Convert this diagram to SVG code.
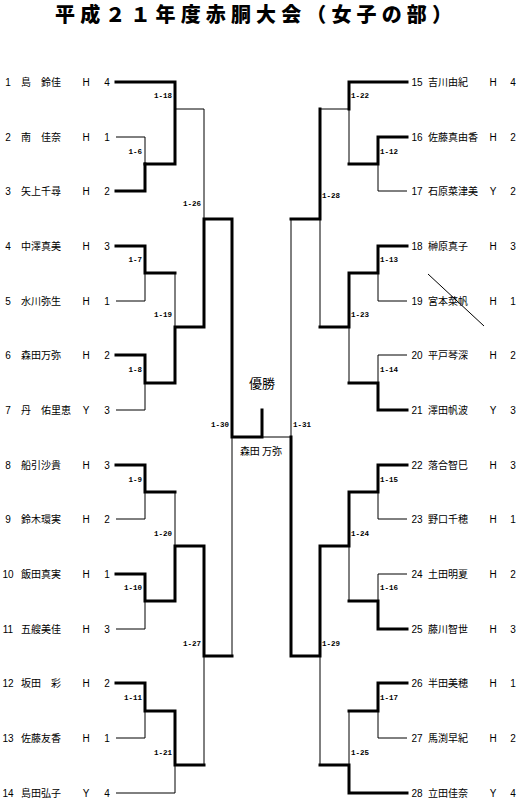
<svg xmlns="http://www.w3.org/2000/svg" width="520" height="806" viewBox="0 0 520 806">
<style>
.t{fill:none;stroke:#000;stroke-width:1}
.k{fill:none;stroke:#000;stroke-width:3;stroke-linecap:square}
.nm{font-family:"Noto Sans CJK JP","Noto Sans CJK SC",sans-serif;font-size:10px;fill:#000}
.no{font-family:"Liberation Sans",sans-serif;font-size:10px;fill:#000;text-anchor:middle}
.lb{font-family:"Liberation Mono",monospace;font-size:7.5px;font-weight:bold;fill:#000}
.le{text-anchor:end}
.ttl{font-family:"Noto Sans CJK JP","Noto Sans CJK SC",sans-serif;font-size:20px;font-weight:900;fill:#000}
.big{font-family:"Noto Sans CJK JP","Noto Sans CJK SC",sans-serif;font-size:13px;fill:#000;text-anchor:middle}
</style>
<rect width="520" height="806" fill="#fff"/>
<text class="ttl" x="55" y="22" textLength="397" lengthAdjust="spacing">平成２１年度赤胴大会（女子の部）</text>

<g id="connectors">
<path class="k" d="M116,82H175V164M145,164H175"/>
<path class="k" d="M116,191H145V164"/>
<path class="k" d="M116,246H145V273H175"/>
<path class="k" d="M116,355H145V383H175V327H204V219H232V437H262V410"/>
<path class="k" d="M116,465H145V492H175"/>
<path class="k" d="M116,574H145V601H175V546H204V656H232"/>
<path class="k" d="M116,683H145V711H175V765H204"/>
<path class="t" d="M175,109H204V219"/>
<path class="t" d="M116,137H145V164"/>
<path class="t" d="M145,273V301H116"/>
<path class="t" d="M175,273V327"/>
<path class="t" d="M145,383V410H116"/>
<path class="t" d="M145,492V519H116"/>
<path class="t" d="M175,492V546"/>
<path class="t" d="M145,601V629H116"/>
<path class="t" d="M145,711V738H116"/>
<path class="t" d="M175,765V793H116"/>
<path class="t" d="M204,656V765"/>
<path class="t" d="M232,437V656"/>
<path class="t" d="M262,437H291"/>
<path class="k" d="M407,82H349V109"/>
<path class="k" d="M407,137H378V164H349"/>
<path class="k" d="M320,109V219H291"/>
<path class="k" d="M407,246H378V273H349V327H320"/>
<path class="k" d="M407,410H378V383H349"/>
<path class="k" d="M291,437V656H320V546H349V492H378V465H407"/>
<path class="k" d="M407,629H378V601H349"/>
<path class="k" d="M407,683H378V711H349"/>
<path class="k" d="M407,793H349V765H320"/>
<path class="t" d="M320,109H349V164"/>
<path class="t" d="M378,164V191H407"/>
<path class="t" d="M320,219V327"/>
<path class="t" d="M378,273V301H407"/>
<path class="t" d="M349,327V383"/>
<path class="t" d="M407,355H378V383"/>
<path class="t" d="M291,219V437"/>
<path class="t" d="M378,492V519H407"/>
<path class="t" d="M349,546V601"/>
<path class="t" d="M407,574H378V601"/>
<path class="t" d="M320,656V765"/>
<path class="t" d="M378,711V738H407"/>
<path class="t" d="M349,711V765"/>
<path class="t" d="M428,274L484,326"/>
</g>

<g id="match-labels">
<text class="lb le" x="172" y="97.5">1-18</text>
<text class="lb le" x="142" y="153.5">1-6</text>
<text class="lb le" x="201" y="205.5">1-26</text>
<text class="lb le" x="142" y="261.5">1-7</text>
<text class="lb le" x="172" y="316.5">1-19</text>
<text class="lb le" x="142" y="371.5">1-8</text>
<text class="lb le" x="229" y="426.5">1-30</text>
<text class="lb le" x="142" y="481.5">1-9</text>
<text class="lb le" x="172" y="535.5">1-20</text>
<text class="lb le" x="142" y="589.5">1-10</text>
<text class="lb le" x="201" y="645.5">1-27</text>
<text class="lb le" x="142" y="699.5">1-11</text>
<text class="lb le" x="172" y="754.5">1-21</text>
<text class="lb" x="351" y="97.5">1-22</text>
<text class="lb" x="380" y="153.5">1-12</text>
<text class="lb" x="322" y="197.5">1-28</text>
<text class="lb" x="380" y="261.5">1-13</text>
<text class="lb" x="351" y="316.5">1-23</text>
<text class="lb" x="380" y="371.5">1-14</text>
<text class="lb" x="293" y="426.5">1-31</text>
<text class="lb" x="380" y="481.5">1-15</text>
<text class="lb" x="351" y="535.5">1-24</text>
<text class="lb" x="380" y="589.5">1-16</text>
<text class="lb" x="322" y="645.5">1-29</text>
<text class="lb" x="380" y="699.5">1-17</text>
<text class="lb" x="351" y="754.5">1-25</text>
</g>

<g id="final">
<text class="big" x="262" y="388">優勝</text>
<text class="nm" x="261" y="455" text-anchor="middle">森田 万弥</text>
</g>

<g id="p1"><text class="no" x="8" y="86">1</text><text class="nm" x="21" y="86">島　鈴佳</text><text class="no" x="86" y="86">H</text><text class="no" x="107" y="86">4</text></g>
<g id="p2"><text class="no" x="8" y="141">2</text><text class="nm" x="21" y="141">南　佳奈</text><text class="no" x="86" y="141">H</text><text class="no" x="107" y="141">1</text></g>
<g id="p3"><text class="no" x="8" y="195">3</text><text class="nm" x="21" y="195">矢上千尋</text><text class="no" x="86" y="195">H</text><text class="no" x="107" y="195">2</text></g>
<g id="p4"><text class="no" x="8" y="250">4</text><text class="nm" x="21" y="250">中澤真美</text><text class="no" x="86" y="250">H</text><text class="no" x="107" y="250">3</text></g>
<g id="p5"><text class="no" x="8" y="305">5</text><text class="nm" x="21" y="305">水川弥生</text><text class="no" x="86" y="305">H</text><text class="no" x="107" y="305">1</text></g>
<g id="p6"><text class="no" x="8" y="359">6</text><text class="nm" x="21" y="359">森田万弥</text><text class="no" x="86" y="359">H</text><text class="no" x="107" y="359">2</text></g>
<g id="p7"><text class="no" x="8" y="414">7</text><text class="nm" x="21" y="414">丹　佑里恵</text><text class="no" x="86" y="414">Y</text><text class="no" x="107" y="414">3</text></g>
<g id="p8"><text class="no" x="8" y="469">8</text><text class="nm" x="21" y="469">船引沙貴</text><text class="no" x="86" y="469">H</text><text class="no" x="107" y="469">3</text></g>
<g id="p9"><text class="no" x="8" y="523">9</text><text class="nm" x="21" y="523">鈴木環実</text><text class="no" x="86" y="523">H</text><text class="no" x="107" y="523">2</text></g>
<g id="p10"><text class="no" x="8" y="578">10</text><text class="nm" x="21" y="578">飯田真実</text><text class="no" x="86" y="578">H</text><text class="no" x="107" y="578">1</text></g>
<g id="p11"><text class="no" x="8" y="633">11</text><text class="nm" x="21" y="633">五艘美佳</text><text class="no" x="86" y="633">H</text><text class="no" x="107" y="633">3</text></g>
<g id="p12"><text class="no" x="8" y="687">12</text><text class="nm" x="21" y="687">坂田　彩</text><text class="no" x="86" y="687">H</text><text class="no" x="107" y="687">2</text></g>
<g id="p13"><text class="no" x="8" y="742">13</text><text class="nm" x="21" y="742">佐藤友香</text><text class="no" x="86" y="742">H</text><text class="no" x="107" y="742">1</text></g>
<g id="p14"><text class="no" x="8" y="797">14</text><text class="nm" x="21" y="797">島田弘子</text><text class="no" x="86" y="797">Y</text><text class="no" x="107" y="797">4</text></g>

<g id="p15"><text class="no" x="417" y="86">15</text><text class="nm" x="428" y="86">吉川由紀</text><text class="no" x="493" y="86">H</text><text class="no" x="513" y="86">4</text></g>
<g id="p16"><text class="no" x="417" y="141">16</text><text class="nm" x="428" y="141">佐藤真由香</text><text class="no" x="493" y="141">H</text><text class="no" x="513" y="141">2</text></g>
<g id="p17"><text class="no" x="417" y="195">17</text><text class="nm" x="428" y="195">石原菜津美</text><text class="no" x="493" y="195">Y</text><text class="no" x="513" y="195">2</text></g>
<g id="p18"><text class="no" x="417" y="250">18</text><text class="nm" x="428" y="250">榊原真子</text><text class="no" x="493" y="250">H</text><text class="no" x="513" y="250">3</text></g>
<g id="p19"><text class="no" x="417" y="305">19</text><text class="nm" x="428" y="305">宮本菜帆</text><text class="no" x="493" y="305">H</text><text class="no" x="513" y="305">1</text></g>
<g id="p20"><text class="no" x="417" y="359">20</text><text class="nm" x="428" y="359">平戸琴深</text><text class="no" x="493" y="359">H</text><text class="no" x="513" y="359">2</text></g>
<g id="p21"><text class="no" x="417" y="414">21</text><text class="nm" x="428" y="414">澤田帆波</text><text class="no" x="493" y="414">Y</text><text class="no" x="513" y="414">3</text></g>
<g id="p22"><text class="no" x="417" y="469">22</text><text class="nm" x="428" y="469">落合智巳</text><text class="no" x="493" y="469">H</text><text class="no" x="513" y="469">3</text></g>
<g id="p23"><text class="no" x="417" y="523">23</text><text class="nm" x="428" y="523">野口千穂</text><text class="no" x="493" y="523">H</text><text class="no" x="513" y="523">1</text></g>
<g id="p24"><text class="no" x="417" y="578">24</text><text class="nm" x="428" y="578">土田明夏</text><text class="no" x="493" y="578">H</text><text class="no" x="513" y="578">2</text></g>
<g id="p25"><text class="no" x="417" y="633">25</text><text class="nm" x="428" y="633">藤川智世</text><text class="no" x="493" y="633">H</text><text class="no" x="513" y="633">3</text></g>
<g id="p26"><text class="no" x="417" y="687">26</text><text class="nm" x="428" y="687">半田美穂</text><text class="no" x="493" y="687">H</text><text class="no" x="513" y="687">1</text></g>
<g id="p27"><text class="no" x="417" y="742">27</text><text class="nm" x="428" y="742">馬渕早紀</text><text class="no" x="493" y="742">H</text><text class="no" x="513" y="742">2</text></g>
<g id="p28"><text class="no" x="417" y="797">28</text><text class="nm" x="428" y="797">立田佳奈</text><text class="no" x="493" y="797">Y</text><text class="no" x="513" y="797">4</text></g>
</svg>
